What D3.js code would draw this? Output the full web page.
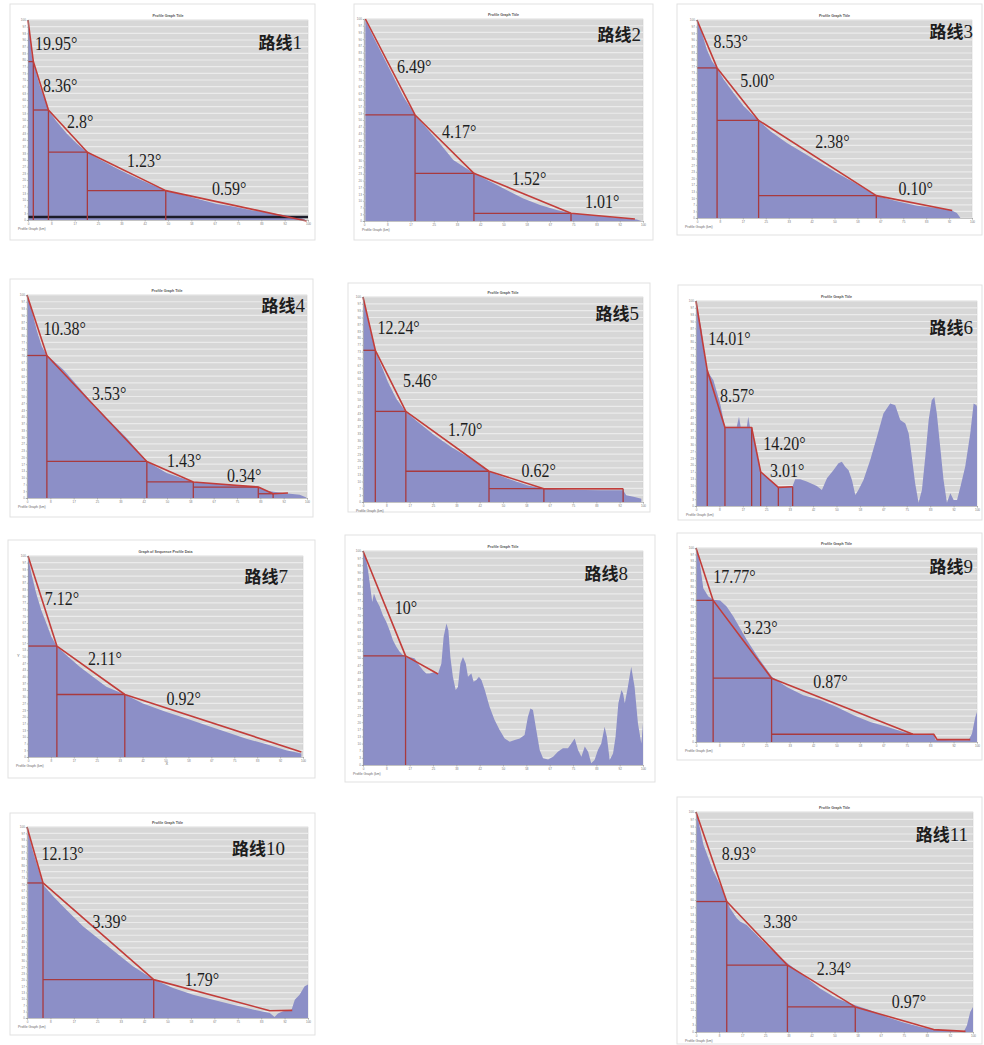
<!DOCTYPE html>
<html>
<head>
<meta charset="utf-8">
<script src="https://cdn.jsdelivr.net/npm/d3@7"></script>
<style>
  body { margin: 0; background: #fff; }
  svg { display: block; }
</style>
</head>
<body>
<svg id="chart" width="984" height="1045"></svg>
<script>
// perfiles: [distancia %, altura %]
var profile1 = [[0,99.7],[0.5,93.3],[1.0,86.7],[1.5,80.8],[1.9,79.2],[3.1,72.5],[4.3,66.7],[6.1,60.0],[7.3,55.0],[10.2,49.2],[13.8,43.3],[17.4,38.3],[21.2,33.8],[25.7,30.3],[31.7,25.8],[37.6,21.7],[43.6,18.0],[49.2,14.7],[55.5,12.5],[61.4,10.3],[67.4,8.0],[73.3,6.7],[79.3,5.0],[85.2,3.7],[91.2,2.5],[97.1,1.3],[98.9,0.3]];
var fit1 = [[0,100],[1.9,79.2],[7.3,55.0],[21.2,33.9],[49.2,14.7],[99.5,-0.5]];
var slopes1 = ["19.95°","8.36°","2.8°","1.23°","0.59°"];

var profile2 = [[0.5,99.5],[3.3,91.3],[6.9,81.4],[10.5,71.5],[14.1,61.6],[18.3,52.5],[22.5,45.9],[27.2,38.4],[32.0,30.2],[39.4,23.6],[45.2,19.5],[51.1,15.3],[57.1,11.2],[63.1,7.9],[69.1,5.4],[74.2,3.8],[81.0,3.0],[87.0,2.1],[93.0,1.3],[97.7,0.8],[99.5,0]];
var fit2 = [[0.5,100],[18.3,52.5],[39.4,23.6],[74.2,3.8],[97.1,1.0]];
var slopes2 = ["6.49°","4.17°","1.52°","1.01°"];

var profile3 = [[0.2,99.8],[1.8,93.4],[3.6,85.0],[5.5,79.1],[7.3,75.8],[9.7,69.9],[13.3,63.1],[17.0,56.4],[22.4,49.3],[26.7,43.8],[32.7,37.9],[38.8,32.8],[44.8,27.8],[50.9,22.7],[57.0,18.0],[65.2,11.3],[72.7,8.4],[80.0,6.2],[87.3,5.1],[92.1,4.2],[94.5,2.5],[95.8,0]];
var fit3 = [[0,100],[7.3,75.8],[22.4,49.3],[65.2,11.3],[92.8,3.8]];
var slopes3 = ["8.53°","5.00°","2.38°","0.10°"];

var profile4 = [[0.2,99.7],[1.8,91.8],[3.6,82.0],[5.3,74.6],[7.1,70.2],[9.5,67.5],[13.1,63.1],[17.8,55.7],[23.8,45.9],[29.7,37.7],[35.6,29.5],[42.8,18.0],[49.9,12.3],[59.4,7.9],[67.7,6.9],[76.0,6.2],[82.5,5.6],[85.5,3.6],[91.4,2.5],[97.4,1.6],[99.8,0.3]];
var fit4 = [[0,100],[7.1,70.2],[42.8,18.0],[59.4,7.9],[82.6,5.4],[87.9,2.1],[93.2,2.5]];
var slopes4 = ["10.38°","3.53°","1.43°","0.34°",null,null];

var profile5 = [[0.2,100],[1.2,92.7],[2.4,84.6],[3.6,78.0],[4.4,74.0],[6.5,66.7],[8.9,58.5],[11.9,50.4],[15.2,44.2],[19.6,39.0],[25.6,32.5],[31.5,26.8],[37.5,22.0],[44.9,15.0],[51.8,11.4],[58.9,8.1],[64.6,6.5],[73.2,6.0],[85.1,5.7],[92.9,5.7],[94.0,3.3],[97.0,2.4],[99.4,1.6]];
var fit5 = [[0,100],[4.4,74.0],[15.3,44.2],[45.0,15.0],[64.6,6.5],[92.9,6.5]];
var slopes5 = ["12.24°","5.46°","1.70°","0.62°",null];

var profile6 = [[0.2,99.5],[0.8,93.8],[2.0,85.7],[2.6,77.6],[3.8,67.0],[5.0,63.8],[6.2,61.4],[8.6,50.0],[10.3,38.6],[14.5,38.6],[15.3,43.5],[15.9,38.6],[18.1,38.6],[18.6,43.5],[19.2,38.6],[19.8,37.8],[21.6,25.6],[23.0,16.7],[26.4,12.7],[29.3,9.4],[31.1,9.1],[34.4,9.7],[35.3,13.0],[37.1,13.1],[39.4,11.9],[43.0,9.7],[44.8,7.8],[46.6,13.5],[48.9,17.5],[50.7,20.8],[51.9,21.6],[53.1,19.2],[54.3,17.5],[55.5,12.7],[56.7,5.4],[57.8,7.8],[59.6,12.7],[62.0,22.4],[64.4,33.8],[66.7,45.1],[69.1,50.0],[70.9,49.2],[72.7,41.9],[74.5,40.3],[75.7,35.4],[76.8,24.0],[78.0,11.0],[79.2,1.6],[80.4,7.8],[81.6,24.0],[82.8,41.9],[83.9,51.6],[84.8,53.2],[85.7,45.1],[86.9,28.9],[88.1,12.7],[89.3,1.6],[90.5,6.2],[91.7,2.9],[92.9,2.9],[94.1,9.4],[95.8,19.2],[97.6,35.4],[98.8,50.0],[99.8,49.2],[100,48.4]];
var fit6 = [[0,100],[4.0,66.2],[10.3,38.3],[19.8,38.3],[23.0,16.7],[29.3,9.1],[34.4,9.4]];
var slopes6 = ["14.01°","8.57°",null,"14.20°","3.01°",null];

var profile7 = [[0,99.7],[1.2,91.4],[3.0,81.4],[4.8,73.1],[6.7,66.4],[8.5,59.8],[10.5,55.1],[13.9,50.7],[18.8,44.9],[23.6,39.9],[28.5,34.9],[35.2,31.1],[41.8,26.6],[50.3,22.4],[57.6,19.1],[64.8,15.8],[72.1,12.5],[79.4,9.1],[86.7,6.3],[93.9,3.3],[99.4,1.7]];
var fit7 = [[0,100],[10.5,55.2],[35.2,31.1],[99.4,2.5]];
var slopes7 = ["7.12°","2.11°","0.92°"];

var profile8 = [[0,100],[1.0,97.2],[1.8,91.0],[2.6,83.2],[3.3,76.2],[3.9,80.1],[4.8,77.0],[6.0,73.9],[7.1,70.0],[8.3,66.9],[9.5,63.0],[10.7,58.3],[11.9,55.2],[13.1,52.9],[14.3,51.3],[15.5,50.5],[17.3,50.2],[18.5,49.8],[19.6,47.4],[21.4,44.3],[22.6,42.8],[23.8,42.8],[25.6,43.5],[26.8,42.8],[28.0,47.4],[28.8,59.9],[29.8,66.1],[30.5,63.0],[31.2,50.5],[32.1,41.2],[33.1,35.0],[33.9,36.5],[34.8,47.4],[35.7,50.5],[36.7,47.4],[37.5,41.2],[38.7,42.8],[39.5,38.9],[40.5,39.7],[41.4,41.2],[42.3,39.7],[43.5,35.0],[45.2,27.2],[47.0,21.0],[48.8,16.3],[50.6,12.4],[52.4,10.9],[54.2,11.7],[56.0,12.4],[57.7,14.0],[58.9,22.6],[59.8,26.4],[60.7,25.7],[61.7,17.9],[63.1,7.0],[64.3,3.1],[66.1,2.6],[67.9,3.9],[69.6,6.2],[71.4,7.8],[73.2,7.8],[74.4,10.1],[75.6,12.4],[76.8,7.0],[78.0,3.9],[79.2,8.6],[80.4,6.2],[81.5,0.8],[82.7,2.3],[83.9,7.0],[85.1,10.1],[86.3,17.9],[87.1,13.2],[88.1,2.3],[89.3,5.4],[90.2,13.2],[91.2,28.8],[92.3,35.0],[92.9,33.4],[93.5,28.8],[94.4,35.0],[95.8,45.9],[97.0,36.5],[98.2,19.4],[99.4,10.1],[100,19.4]];
var fit8 = [[0,100],[15.2,51.0],[26.8,42.5]];
var slopes8 = ["10°",null];

var profile9 = [[0.2,100],[1.4,92.2],[2.6,79.3],[4.4,75.0],[6.2,73.3],[8.6,72.9],[10.9,69.8],[13.3,64.7],[18.1,52.6],[22.8,42.2],[27.0,33.6],[32.3,28.4],[38.2,24.1],[44.2,21.6],[50.1,18.1],[56.1,13.8],[62.0,10.3],[67.9,7.8],[73.9,5.2],[78.0,4.0],[84.6,4.3],[85.2,1.2],[91.7,0.9],[97.0,0.9],[98.2,4.3],[99.4,12.9],[100,15.5]];
var fit9 = [[0,100],[6.1,73.0],[26.9,32.9],[77.2,4.0],[84.6,4.0],[85.8,1.2],[97.6,1.2]];
var slopes9 = ["17.77°","3.23°","0.87°",null,null,null];

var profile10 = [[0.4,99.5],[0.9,94.2],[2.1,87.3],[3.9,78.5],[5.7,69.8],[9.3,63.7],[14.0,56.7],[19.9,48.0],[25.9,41.0],[31.8,34.0],[37.7,27.1],[45.1,20.1],[52.0,15.7],[59.1,12.2],[66.2,9.6],[73.3,7.0],[80.4,4.4],[86.4,2.6],[88.1,0.5],[89.3,2.3],[91.1,3.5],[94.1,4.0],[95.3,9.6],[97.0,12.2],[98.8,16.6],[100,17.5]];
var fit10 = [[0,100],[5.7,70.7],[45.1,20.1],[86.4,3.8],[94.4,4.0]];
var slopes10 = ["12.13°","3.39°","1.79°",null];

var profile11 = [[0.2,100],[1.4,92.7],[2.7,85.1],[4.5,79.0],[6.3,72.9],[8.7,66.9],[11.1,60.0],[12.3,56.2],[14.7,51.7],[15.9,50.2],[18.3,48.6],[21.9,44.1],[26.7,38.0],[33.0,31.2],[38.8,25.8],[44.8,19.8],[50.8,15.2],[57.5,12.2],[62.9,9.9],[68.9,6.8],[74.9,4.3],[81.0,2.3],[85.8,1.1],[93.0,0.3],[96.6,0],[97.8,3.0],[99.0,9.1],[100,11.4]];
var fit11 = [[0,100],[11.1,59.3],[33.0,30.4],[57.5,11.4],[85.8,1.1],[97.3,0.3]];
var slopes11 = ["8.93°","3.38°","2.34°","0.97°",null];

var routeNames = ["路线1","路线2","路线3","路线4","路线5","路线6","路线7","路线8","路线9","路线10","路线11"];
var profiles = [profile1, profile2, profile3, profile4, profile5, profile6, profile7, profile8, profile9, profile10, profile11];
var fits = [fit1, fit2, fit3, fit4, fit5, fit6, fit7, fit8, fit9, fit10, fit11];
var slopes = [slopes1, slopes2, slopes3, slopes4, slopes5, slopes6, slopes7, slopes8, slopes9, slopes10, slopes11];

// layout de cada tarjeta: card [x0,y0,x1,y1], plot [x0,y0,x1,y1], etiquetas relativas al plot
var boxes = [
  { card: [10,4,315,240], plot: [28,20,308,220], tags: [[7,30],[15,72],[39,108],[99,147],[184,175]], name: [274,29], hLegs: [0,1,2,3], vLegs: [1,2,3,4], base: 1.5 },
  { card: [354,4,653,240], plot: [364,19,643,221], tags: [[33,54],[78,119],[148,166],[221,189]], name: [277,22], hLegs: [0,1,2], vLegs: [1,2,3] },
  { card: [677,4,982,235], plot: [697,20,972,218], tags: [[16.6,28],[43.3,67],[118.3,128],[201.6,175]], name: [276,18], hLegs: [0,1,2], vLegs: [1,2,3] },
  { card: [10,279,313,517], plot: [27,295,307,498], tags: [[16.6,40],[65,105],[140,171.7],[200,186.7],null,null], name: [278,17], hLegs: [0,1,2,3,4], vLegs: [1,2,3,4,5] },
  { card: [348,283,650,512], plot: [363,297,643,502], tags: [[14.4,36.7],[40,90],[85,139],[158.4,180],null], name: [276,23], hLegs: [0,1,2,3,4], vLegs: [1,2,3,4,5] },
  { card: [678,285,982,520], plot: [696,301,977,506], tags: [[12.3,44.3],[24,101],null,[67.3,149.3],[74,176],null], name: [277,33], hLegs: [], vLegs: [1,2,3,4,5,6] },
  { card: [8,540,315,778], plot: [28,556,303,757], tags: [[16.7,49],[60,109],[138.4,149]], name: [260,27], hLegs: [0,1], vLegs: [1,2], title: "Graph of Sequence Profile Data", axisLetters: true },
  { card: [345,535,655,782], plot: [363,551,643,765], tags: [[31.7,62.6],null], name: [265,29], hLegs: [0], vLegs: [1] },
  { card: [677,533,982,760], plot: [696,548,977,742], tags: [[17.3,35],[47.3,85.7],[117.3,140],null,null,null], name: [277,25], hLegs: [0,1,2], vLegs: [1,2] },
  { card: [10,813,315,1035], plot: [27,827,308,1018], tags: [[14.4,32.7],[65.4,101],[157.7,159.4],null], name: [258,28], hLegs: [0,1], vLegs: [1,2] },
  { card: [677,797,982,1044], plot: [696,812,973,1032], tags: [[25.7,47.7],[67.3,116],[120.7,162.7],[195.7,196],null], name: [272,29], hLegs: [0,1,2], vLegs: [1,2,3] }
];

var svg = d3.select("#chart");
var gridVals = d3.range(31).map(function (i) { return i * 100 / 30; });
var xTickVals = d3.range(13).map(function (i) { return i * 100 / 12; });

function graficar_ruta(i) {
  var b = boxes[i], prof = profiles[i], fit = fits[i], sl = slopes[i];
  var g = svg.append("g");

  // tarjeta
  g.append("rect")
    .attr("x", b.card[0]).attr("y", b.card[1])
    .attr("width", b.card[2] - b.card[0]).attr("height", b.card[3] - b.card[1])
    .attr("fill", "#fff").attr("stroke", "#e1e1e1").attr("stroke-width", 1);

  var x = d3.scaleLinear().domain([0, 100]).range([b.plot[0], b.plot[2]]);
  var y = d3.scaleLinear().domain([0, 100]).range([b.plot[3], b.plot[1]]);

  // fondo gris
  g.append("rect")
    .attr("x", b.plot[0]).attr("y", b.plot[1])
    .attr("width", b.plot[2] - b.plot[0]).attr("height", b.plot[3] - b.plot[1])
    .attr("fill", "#d7d7d7").attr("stroke", "#c4c4c4").attr("stroke-width", 0.5);

  g.selectAll(".grid").data(gridVals).enter().append("line")
    .attr("x1", b.plot[0]).attr("x2", b.plot[2])
    .attr("y1", function (d) { return y(d); }).attr("y2", function (d) { return y(d); })
    .attr("stroke", "#ebebeb").attr("stroke-width", 1.2);

  // titulo minimo
  g.append("text")
    .attr("x", (b.plot[0] + b.plot[2]) / 2).attr("y", b.plot[1] - 3)
    .attr("text-anchor", "middle")
    .style("font-family", "Liberation Sans").style("font-size", "3.6px").style("font-weight", "bold")
    .style("fill", "#555")
    .text(b.title || "Profile Graph Title");

  // area del perfil
  var area = d3.area()
    .x(function (d) { return x(d[0]); })
    .y0(y(0))
    .y1(function (d) { return y(d[1]); });
  g.append("path").datum(prof)
    .attr("d", area)
    .attr("fill", "#8c8fc7");

  if (b.base) {
    g.append("line")
      .attr("x1", b.plot[0]).attr("x2", b.plot[2])
      .attr("y1", y(b.base)).attr("y2", y(b.base))
      .attr("stroke", "#1c1c2a").attr("stroke-width", 2.6);
  }

  // catetos de los triangulos
  var legColor = "#a83a3e";
  b.hLegs.forEach(function (k) {
    g.append("line")
      .attr("x1", x(fit[k][0])).attr("x2", x(fit[k + 1][0]))
      .attr("y1", y(fit[k + 1][1])).attr("y2", y(fit[k + 1][1]))
      .attr("stroke", legColor).attr("stroke-width", 1.3);
  });
  b.vLegs.forEach(function (k) {
    g.append("line")
      .attr("x1", x(fit[k][0])).attr("x2", x(fit[k][0]))
      .attr("y1", y(fit[k][1])).attr("y2", y(0))
      .attr("stroke", legColor).attr("stroke-width", 1.3);
  });

  // linea ajustada
  g.append("path").datum(fit)
    .attr("d", d3.line().x(function (d) { return x(d[0]); }).y(function (d) { return y(d[1]); }))
    .attr("fill", "none")
    .attr("stroke", "#c23d3a").attr("stroke-width", 1.6)
    .attr("stroke-linejoin", "round");

  // ejes
  var ay = g.append("g")
    .attr("transform", "translate(" + b.plot[0] + ",0)")
    .call(d3.axisLeft(y).tickValues(gridVals).tickSize(1.2).tickPadding(1).tickFormat(d3.format(".0f")));
  var ax = g.append("g")
    .attr("transform", "translate(0," + b.plot[3] + ")")
    .call(d3.axisBottom(x).tickValues(xTickVals).tickSize(1.5).tickPadding(1).tickFormat(d3.format(".0f")));
  [ay, ax].forEach(function (a) {
    a.select(".domain").attr("stroke", "#999").attr("stroke-width", 0.5);
    a.selectAll(".tick line").attr("stroke", "#888").attr("stroke-width", 0.5);
    a.selectAll("text").style("font-size", "3px").style("font-family", "Liberation Sans").attr("fill", "#777");
  });

  g.append("text")
    .attr("x", b.card[0] + 8).attr("y", b.plot[3] + 10)
    .style("font-family", "Liberation Sans").style("font-size", "3.4px").style("fill", "#666")
    .text("Profile Graph (km)");

  if (b.axisLetters) {
    g.append("text").attr("x", b.plot[0] - 11).attr("y", (b.plot[1] + b.plot[3]) / 2)
      .style("font-size", "4px").style("font-family", "Liberation Sans").style("fill", "#666").text("Y");
    g.append("text").attr("x", x(50)).attr("y", b.plot[3] + 8)
      .style("font-size", "4px").style("font-family", "Liberation Sans").style("fill", "#666").text("X");
  }

  // etiquetas de pendiente
  sl.forEach(function (s, k) {
    if (s === null) return;
    var p = b.tags[k];
    g.append("text")
      .attr("transform", "translate(" + (b.plot[0] + p[0]) + "," + (b.plot[1] + p[1]) + ") scale(0.82,1)")
      .style("font-family", "Liberation Serif").style("font-size", "19.5px")
      .style("fill", "#1d1d1d")
      .text(s);
  });

  // nombre de la ruta
  var m = routeNames[i].match(/^(\D+)(\d+)$/);
  var nt = g.append("text")
    .attr("x", b.plot[0] + b.name[0]).attr("y", b.plot[1] + b.name[1])
    .attr("text-anchor", "end")
    .style("fill", "#1d1d1d");
  nt.append("tspan")
    .style("font-family", "Noto Sans CJK SC").style("font-weight", "bold").style("font-size", "17px")
    .text(m[1]);
  nt.append("tspan")
    .style("font-family", "Liberation Serif").style("font-size", "19px")
    .text(m[2]);
}

for (var i = 0; i < routeNames.length; i++) {
  graficar_ruta(i);
}
</script>
</body>
</html>
